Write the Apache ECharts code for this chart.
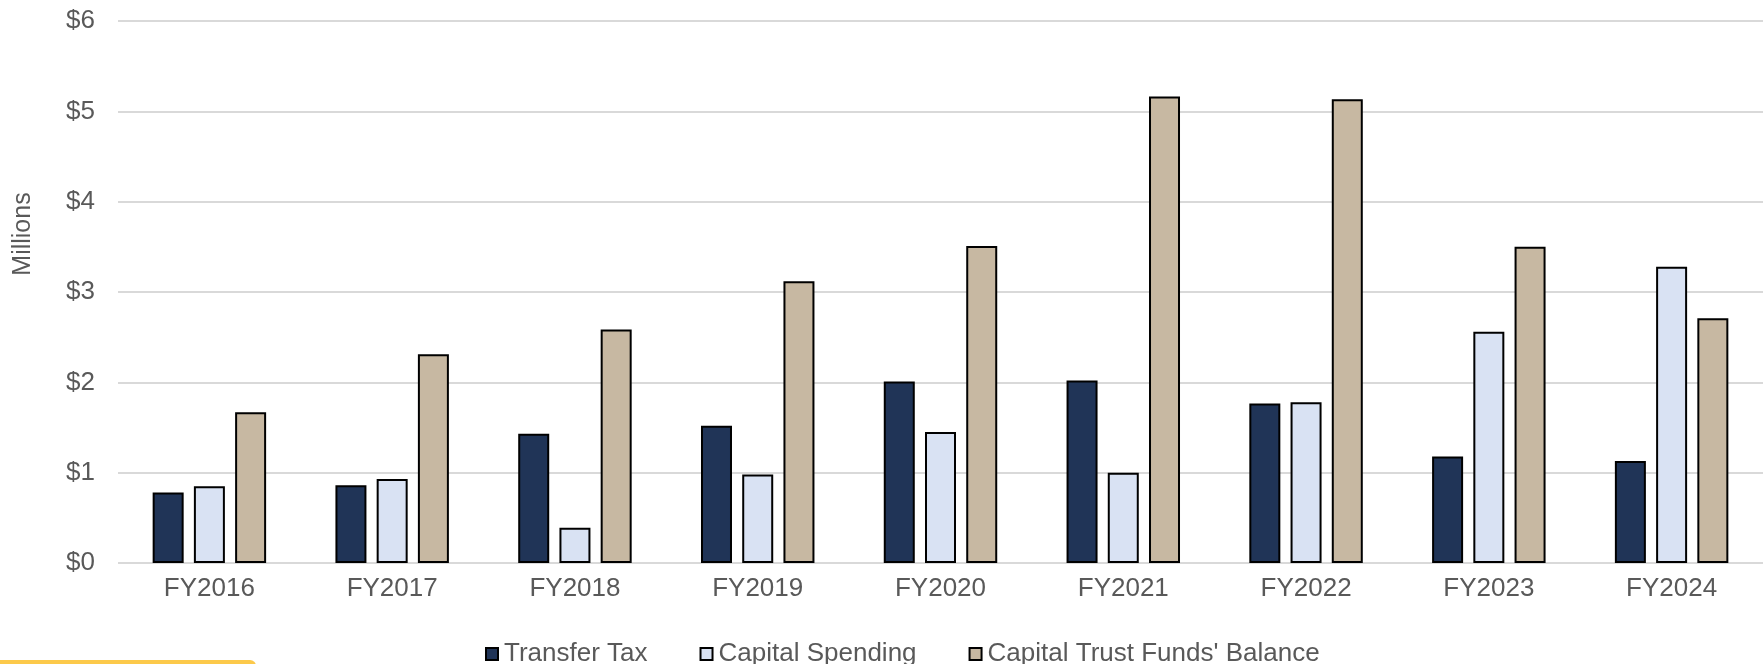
<!DOCTYPE html>
<html>
<head>
<meta charset="utf-8">
<script src="https://cdn.jsdelivr.net/npm/echarts@6/dist/echarts.min.js"></script>
<style>
html,body{margin:0;padding:0;background:#fff;}
#chart{width:1763px;height:664px;}
</style>
</head>
<body>
<div id="chart"></div>
<script>
const categories = ['FY2016','FY2017','FY2018','FY2019','FY2020','FY2021','FY2022','FY2023','FY2024'];
const seriesNames = ['Transfer Tax','Capital Spending',"Capital Trust Funds' Balance"];
const transferTax = [0.78, 0.86, 1.43, 1.52, 2.01, 2.02, 1.765, 1.18, 1.13];
const capitalSpending = [0.85, 0.93, 0.39, 0.98, 1.45, 1.00, 1.78, 2.56, 3.28];
const trustBalance = [1.67, 2.31, 2.585, 3.12, 3.51, 5.165, 5.135, 3.50, 2.71];
const yTicks = { min: 0, max: 6, interval: 1 };
const yAxisTitle = 'Millions';

const colors = ['#203457', '#D9E2F3', '#C7B8A2'];
const font = '"Liberation Sans", Arial, sans-serif';
const textColor = '#595959';

const chart = echarts.init(document.getElementById('chart'), null, { renderer: 'canvas' });

function mkSeries(name, data, color) {
  return {
    name: name,
    type: 'bar',
    data: data,
    barWidth: 31,
    barGap: '33%',
    itemStyle: { color: color, borderColor: '#000', borderWidth: 2 },
    emphasis: { disabled: true },
    animation: false
  };
}

chart.setOption({
  animation: false,
  textStyle: { fontFamily: font },
  grid: { left: 118, right: 0, top: 21, bottom: 101, containLabel: false },
  legend: {
    data: seriesNames,
    left: 480,
    top: 636,
    itemWidth: 12,
    itemHeight: 12,
    itemGap: 52,
    icon: 'rect',
    itemStyle: { borderColor: '#000', borderWidth: 2 },
    textStyle: { fontFamily: font, fontSize: 26, color: textColor, padding: [0, 0, 0, 1], lineHeight: 26 }
  },
  xAxis: {
    type: 'category',
    data: categories,
    axisLine: { show: false },
    axisTick: { show: false },
    axisLabel: { fontFamily: font, fontSize: 26, color: textColor, margin: 13 }
  },
  yAxis: {
    type: 'value',
    min: yTicks.min,
    max: yTicks.max,
    interval: yTicks.interval,
    axisLine: { show: false },
    axisTick: { show: false },
    splitLine: { lineStyle: { color: '#D9D9D9', width: 2 } },
    axisLabel: { fontFamily: font, fontSize: 26, color: textColor, margin: 23, formatter: '${value}' }
  },
  graphic: [
    {
      type: 'text',
      x: 23,
      y: 234,
      rotation: Math.PI / 2,
      style: { text: yAxisTitle, font: '25px ' + font, fill: textColor, align: 'center', verticalAlign: 'middle' }
    },
    {
      type: 'rect',
      shape: { x: 0, y: 660, width: 256, height: 10, r: [0, 6, 0, 0] },
      style: { fill: '#FCC94A' }
    }
  ],
  series: [
    mkSeries(seriesNames[0], transferTax, colors[0]),
    mkSeries(seriesNames[1], capitalSpending, colors[1]),
    mkSeries(seriesNames[2], trustBalance, colors[2])
  ]
});
</script>
</body>
</html>
